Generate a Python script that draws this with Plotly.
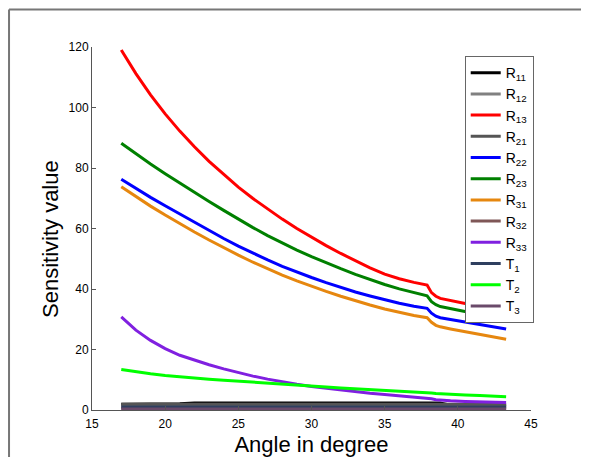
import plotly.graph_objects as go

angle = [17, 18, 19, 20, 21, 22, 23, 24, 25, 26, 27, 28, 29, 30, 31, 32, 33, 34, 35, 36, 37,
         37.9, 38.2, 38.5, 38.8, 39.5, 40.5, 41.5, 42.5, 43.3]

R11 = [1.9, 1.9, 1.9, 2.0, 2.1, 2.3, 2.3, 2.3, 2.3, 2.3, 2.3, 2.3, 2.3, 2.3, 2.3, 2.3, 2.3, 2.3, 2.3, 2.3, 2.3,
       2.3, 2.3, 2.3, 2.3, 1.6, 1.6, 1.6, 1.6, 1.6]
R12 = [1.2] * 30
R13 = [119.0, 111.2, 104.2, 97.9, 92.2, 87.0, 82.2, 77.8, 73.7, 69.9, 66.4, 63.1, 60.0, 57.1, 54.35, 51.75,
       49.3, 47.0, 44.9, 43.4, 42.2, 41.3, 38.8, 37.6, 36.9, 36.1, 35.2, 34.4, 33.6, 33.0]
R21 = [1.9] * 30
R22 = [76.3, 73.2, 70.3, 67.5, 64.8, 62.0, 59.3, 56.7, 54.2, 51.8, 49.6, 47.5, 45.6, 43.8, 42.1, 40.5,
       39.0, 37.7, 36.4, 35.3, 34.3, 33.6, 32.0, 31.0, 30.5, 29.9, 29.1, 28.3, 27.5, 26.8]
R23 = [88.2, 84.65, 81.3, 78.1, 75.0, 71.95, 68.95, 66.0, 63.1, 60.3, 57.65, 55.15, 52.85, 50.7, 48.65,
       46.7, 44.85, 43.1, 41.5, 40.05, 38.75, 37.75, 35.8, 34.8, 34.2, 33.5, 32.5, 31.6, 30.8, 30.2]
R31 = [73.8, 70.5, 67.4, 64.45, 61.6, 58.85, 56.2, 53.65, 51.2, 48.85, 46.65, 44.6, 42.7, 40.9, 39.2,
       37.6, 36.1, 34.7, 33.4, 32.25, 31.25, 30.5, 29.0, 28.0, 27.5, 26.8, 25.9, 25.0, 24.1, 23.4]
R32 = [0.6] * 30
R33 = [30.8, 26.4, 23.0, 20.3, 18.1, 16.4, 14.95, 13.6, 12.35, 11.2, 10.2, 9.3, 8.5, 7.8, 7.2, 6.6,
       6.05, 5.55, 5.1, 4.7, 4.35, 4.05, 3.7, 3.4, 3.25, 3.05, 2.85, 2.7, 2.6, 2.5]
T1 = [1.0] * 30
T2 = [13.4, 12.6, 11.95, 11.4, 10.95, 10.55, 10.2, 9.85, 9.5, 9.15, 8.85, 8.5, 8.2, 7.9, 7.6, 7.3,
      7.05, 6.8, 6.55, 6.3, 6.1, 5.9, 5.65, 5.45, 5.35, 5.2, 5.0, 4.8, 4.6, 4.4]
T3 = [0.3] * 30

names = ["R<sub>11</sub>", "R<sub>12</sub>", "R<sub>13</sub>", "R<sub>21</sub>", "R<sub>22</sub>",
         "R<sub>23</sub>", "R<sub>31</sub>", "R<sub>32</sub>", "R<sub>33</sub>",
         "T<sub>1</sub>", "T<sub>2</sub>", "T<sub>3</sub>"]
series = [R11, R12, R13, R21, R22, R23, R31, R32, R33, T1, T2, T3]
colors = ["#000000", "#808080", "#ff0000", "#555555", "#0000ff", "#008000", "#e6870f",
          "#7f5757", "#8020e0", "#2f3f5f", "#00ff00", "#6a4a6a"]

fig = go.Figure()
for i, (n, s, c) in enumerate(zip(names, series, colors)):
    fig.add_trace(go.Scatter(x=angle, y=s, mode="lines", name=n,
                             line=dict(color=c, width=3), legendgroup=str(i)))

FONT = "Liberation Sans, Arial, sans-serif"
axis_font = dict(family=FONT, size=12, color="#000000")
fig.update_layout(
    width=573, height=449,
    margin=dict(l=84, r=50, t=39, b=47),
    paper_bgcolor="white", plot_bgcolor="white",
    font=dict(family=FONT, color="#000000"),
    showlegend=True,
    legend=dict(x=0.849, y=0.975, xanchor="left", yanchor="top",
                bgcolor="white", bordercolor="#666666", borderwidth=1,
                font=dict(size=14, family=FONT),
                tracegroupgap=0, itemwidth=30),
    xaxis=dict(range=[15, 45], tickvals=[15, 20, 25, 30, 35, 40, 45],
               showline=True, linecolor="#555555", linewidth=1, mirror=False,
               ticks="inside", ticklen=4, tickcolor="#555555", ticklabelstandoff=3,
               showgrid=False, zeroline=False, tickfont=axis_font, automargin=False,
               title=dict(text="Angle in degree", font=dict(size=22, family=FONT), standoff=12)),
    yaxis=dict(range=[0, 120], tickvals=[0, 20, 40, 60, 80, 100, 120],
               showline=True, linecolor="#555555", linewidth=1, mirror=False,
               ticks="inside", ticklen=4, tickcolor="#555555", automargin=False,
               showgrid=False, zeroline=False, tickfont=axis_font),
)

# y-axis label placed like the original (slightly below the axis centre)
fig.add_annotation(text="Sensitivity value", xref="paper", yref="paper",
                   x=-0.0957, y=0.471, xanchor="center", yanchor="middle",
                   textangle=-90, showarrow=False, font=dict(size=22, family=FONT))

# figure frame (left and top edges)
fig.add_shape(type="line", xref="paper", yref="paper", x0=-0.189, x1=-0.189, y0=-0.14, y1=1.103,
              line=dict(color="#777777", width=2))
fig.add_shape(type="line", xref="paper", yref="paper", x0=-0.189, x1=1.12, y0=1.103, y1=1.103,
              line=dict(color="#777777", width=2))

fig.write_html("out.html")
